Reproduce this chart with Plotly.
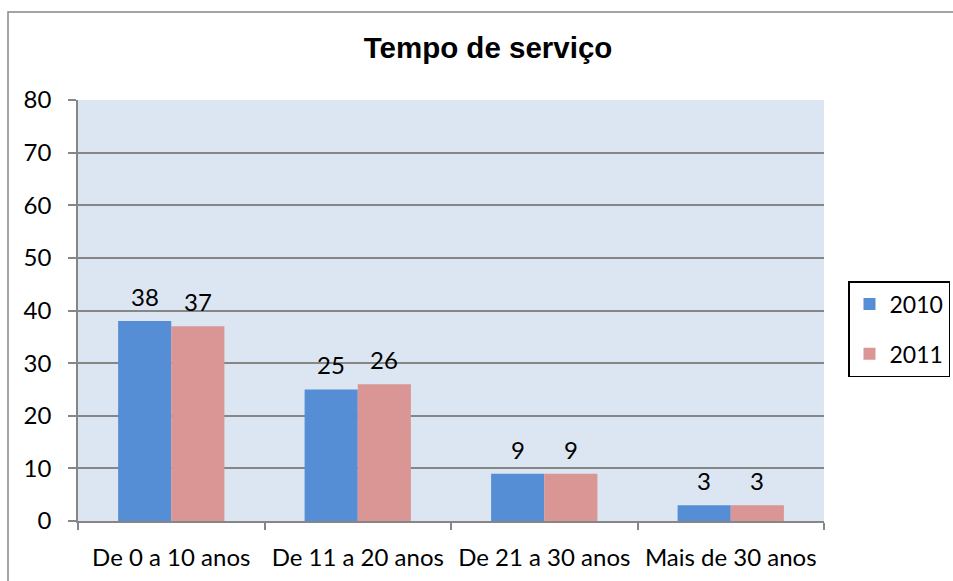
import plotly.graph_objects as go

categories = ["De 0 a 10 anos", "De 11 a 20 anos", "De 21 a 30 anos", "Mais de 30 anos"]
series_names = ["2010", "2011"]
values_2010 = [38, 25, 9, 3]
values_2011 = [37, 26, 9, 3]
y_ticks = [0, 10, 20, 30, 40, 50, 60, 70, 80]

colors = ["#558ED5", "#D99694"]
FONT = "Lato, Carlito, Calibri, sans-serif"

W, H = 953, 581
L, T = 78, 100
pw, ph = 746, 421
R = W - L - pw
B = H - T - ph

fig = go.Figure()
for i, (name, vals) in enumerate(zip(series_names, [values_2010, values_2011])):
    fig.add_trace(go.Bar(
        x=categories, y=vals, name=name,
        marker=dict(color=colors[i], line=dict(width=0)),
        legendgroup=name,
    ))

cat_w = pw / len(categories)
bargap = 0.43
bar_w = cat_w * (1 - bargap) / 2

annotations = []
for i, vals in enumerate([values_2010, values_2011]):
    shift = (-0.5 if i == 0 else 0.5) * bar_w
    for c, v in zip(categories, vals):
        annotations.append(dict(
            x=c, y=v, xref="x", yref="y", text=str(v), showarrow=False,
            xshift=shift, yshift=8, yanchor="bottom",
            font=dict(family=FONT, size=24, color="#000000"),
        ))

fig.update_layout(
    width=W, height=H,
    margin=dict(l=L, r=R, t=T, b=B, autoexpand=False),
    paper_bgcolor="white",
    plot_bgcolor="#DCE6F2",
    barmode="group",
    bargap=bargap,
    bargroupgap=0,
    font=dict(family=FONT, size=24, color="#000000"),
    title=dict(
        text="<b>Tempo de serviço</b>",
        font=dict(family="Liberation Sans, Arial, sans-serif", size=29.5, color="#000000"),
        x=(488 - L) / pw, xref="paper", xanchor="center",
        y=1 - 48 / H, yref="container", yanchor="middle",
    ),
    xaxis=dict(
        type="category",
        showgrid=False,
        showline=True, linecolor="#868686", linewidth=1.5,
        ticks="outside", ticklen=7, tickcolor="#868686", tickwidth=1.5,
        tickson="boundaries",
        tickfont=dict(family=FONT, size=24, color="#000000"),
        ticklabelstandoff=14,
        automargin=False,
    ),
    yaxis=dict(
        range=[0, 80],
        tickvals=y_ticks,
        showgrid=True, gridcolor="#868686", gridwidth=1.5,
        showline=True, linecolor="#868686", linewidth=1.5,
        ticks="outside", ticklen=8, tickcolor="#868686", tickwidth=1.5,
        tickfont=dict(family=FONT, size=24, color="#000000"),
        ticklabelstandoff=12,
        zeroline=False,
        automargin=False,
    ),
    legend=dict(
        xref="container", yref="container",
        x=848 / W, xanchor="left",
        y=1 - 281 / H, yanchor="top",
        bordercolor="#000000", borderwidth=1.5,
        bgcolor="white",
        font=dict(family=FONT, size=23, color="#000000"),
        traceorder="grouped", tracegroupgap=17,
        itemwidth=30,
    ),
    annotations=annotations,
    shapes=[dict(
        type="rect", xref="paper", yref="paper",
        x0=(8 - L) / pw, x1=(W + 10 - L) / pw,
        y0=-(H + 10 - (T + ph)) / ph, y1=1 + (T - 12) / ph,
        line=dict(color="#878787", width=1.5), fillcolor="rgba(0,0,0,0)",
        layer="below",
    )],
)

fig.write_html(
    "out.html",
    config={"responsive": False, "displayModeBar": False},
    post_script="document.body.style.margin='0';document.body.style.overflow='hidden';",
)
